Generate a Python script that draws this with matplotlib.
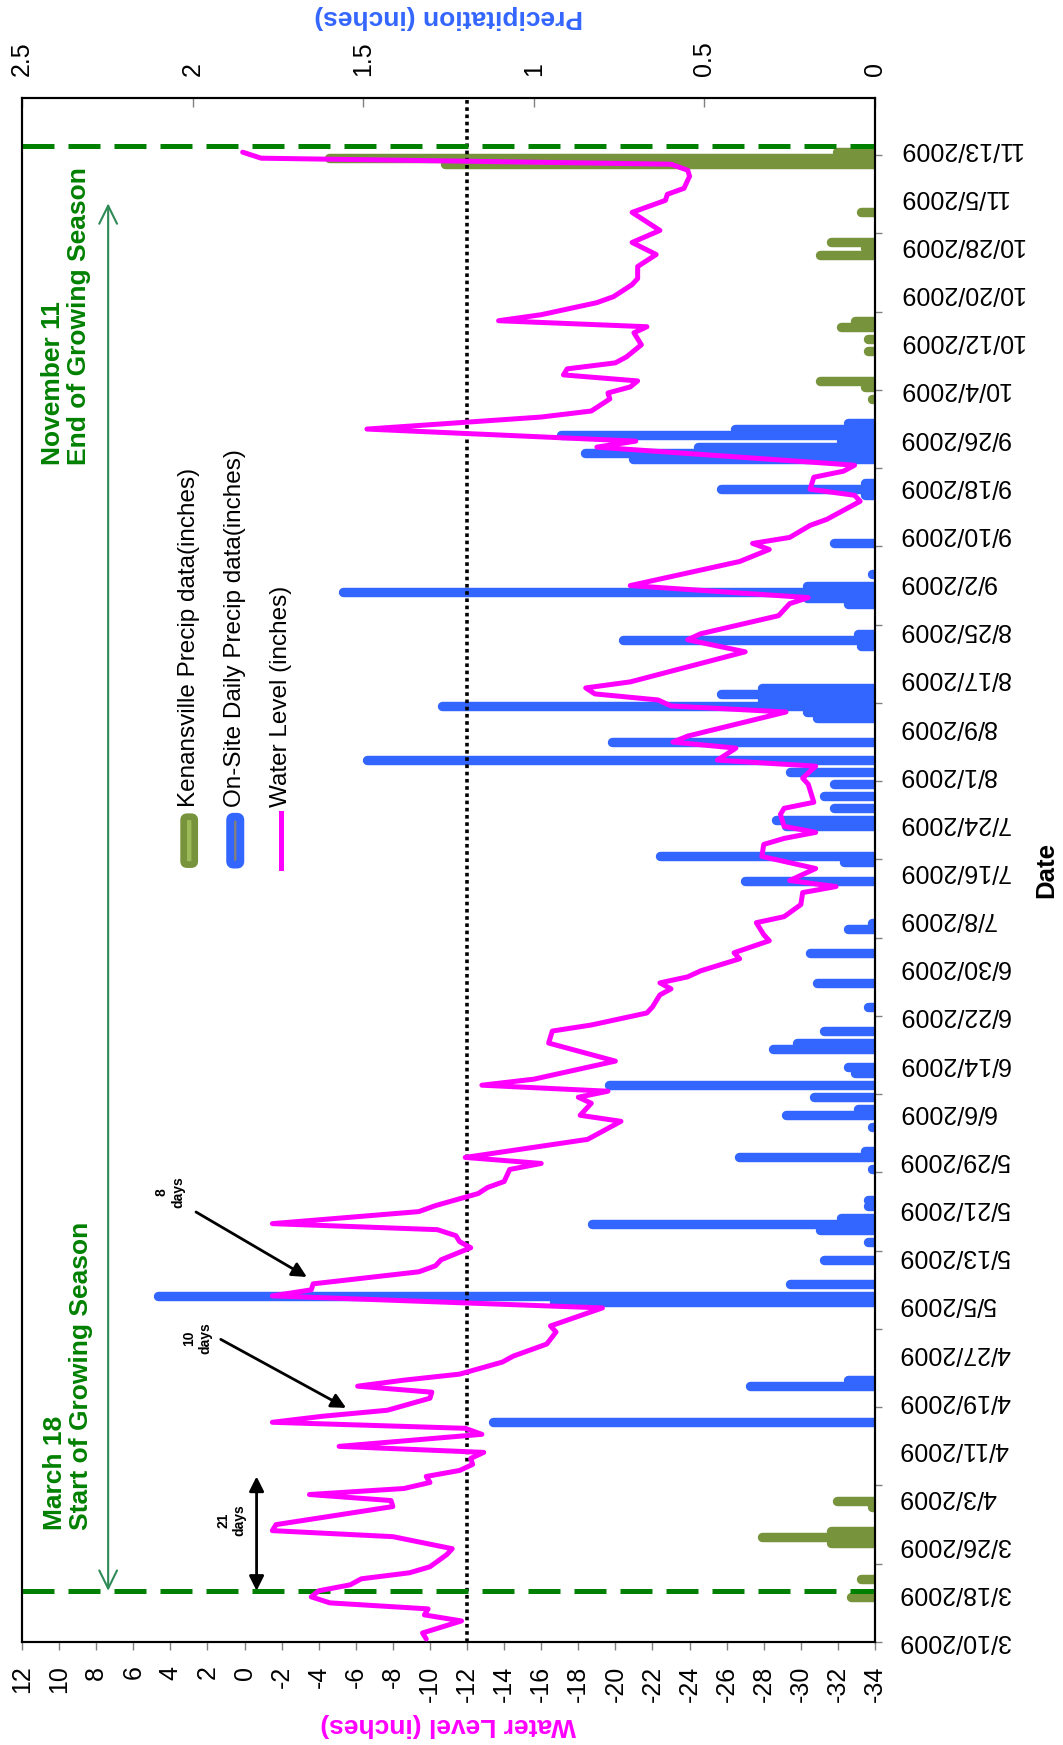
import numpy as np
import matplotlib
matplotlib.use("Agg")
import matplotlib.pyplot as plt
import matplotlib.dates as mdates
from matplotlib.patches import FancyBboxPatch
from matplotlib.lines import Line2D

plt.rcParams["font.family"] = ["Liberation Sans", "DejaVu Sans"]

season_start = np.datetime64("2009-03-10")

# water level (inches), day counted from 3/10/2009
level_day = [0, 1, 3, 4, 5, 6, 7, 8, 9, 10, 11, 12, 14, 15, 17, 18, 19, 22, 23, 24,
             25, 26, 27, 28, 29, 30, 31, 32, 34, 35, 36, 37, 38, 40, 41, 42, 43, 44, 46, 47,
             49, 51, 52, 55, 57, 58, 59, 61, 62, 63, 65, 66, 67, 68, 69, 71, 72, 74, 75, 76,
             78, 79, 80, 83, 86, 87, 89, 90, 91, 92, 93, 96, 99, 101, 102, 104, 105, 107, 108, 109,
             110, 111, 113, 114, 116, 117, 119, 120, 122, 124, 125, 126, 128, 130, 132, 133, 134, 135, 137, 138,
             139, 142, 143, 145, 146, 148, 149, 150, 154, 155, 156, 157, 158, 159, 164, 166, 167, 170, 172, 173,
             175, 179, 181, 182, 183, 185, 186, 189, 190, 191, 193, 194, 195, 198, 199, 201, 203, 204, 206, 207,
             208, 209, 210, 211, 212, 213, 215, 217, 218, 219, 220, 221, 222, 223, 224, 225, 226, 228, 230, 232,
             234, 237, 239, 240, 241, 243, 244, 245, 246, 247]
level_in = [-9.8, -9.6, -11.7, -9.7, -9.9, -4.6, -3.6, -4.0, -5.7, -6.3, -8.9, -10.0, -10.9, -11.2, -8.0, -1.5, -1.7, -8.0, -7.9, -3.5,
            -8.6, -10.0, -9.8, -11.6, -12.3, -12.2, -12.9, -5.1, -12.8, -11.9, -1.5, -4.2, -7.7, -10.0, -10.1, -6.1, -8.6, -11.6, -13.9, -14.5,
            -16.3, -16.8, -16.5, -19.3, -1.5, -3.6, -3.7, -9.4, -10.3, -10.6, -12.2, -11.6, -11.4, -10.4, -1.5, -9.4, -10.3, -12.6, -13.1, -14.0,
            -14.3, -16.0, -11.9, -18.5, -20.3, -18.1, -18.7, -18.0, -19.6, -12.8, -15.6, -20.0, -16.4, -16.6, -18.7, -21.7, -22.0, -22.4, -23.0, -22.4,
            -23.9, -24.6, -26.7, -26.4, -28.3, -28.0, -27.6, -29.1, -30.0, -30.1, -31.9, -29.4, -30.8, -27.9, -28.0, -29.1, -30.8, -29.1, -28.9, -29.1,
            -30.7, -30.4, -30.1, -30.8, -25.5, -26.5, -23.1, -23.9, -29.2, -23.0, -22.3, -18.9, -18.4, -20.8, -27.0, -23.9, -24.6, -28.8, -29.4, -30.4,
            -20.8, -26.7, -28.3, -27.4, -29.4, -30.5, -31.4, -33.2, -32.9, -30.5, -30.7, -32.3, -32.9, -19.0, -21.1, -6.6, -16.0, -18.7, -19.7, -19.6,
            -20.8, -21.2, -17.2, -17.4, -20.0, -20.6, -21.4, -21.0, -21.7, -13.7, -16.0, -17.5, -19.0, -19.9, -20.4, -20.9, -21.2, -21.2, -22.2, -20.9,
            -22.4, -20.9, -22.7, -22.8, -23.7, -24.0, -23.9, -23.0, -0.9, 0.1]

# on-site daily precipitation (inches)
onsite_day = [36, 42, 43, 56, 57, 59, 63, 66, 68, 69, 70, 72, 73, 78, 80, 81, 85, 87, 88, 90,
              92, 94, 95, 98, 99, 101, 105, 109, 114, 118, 119, 126, 129, 130, 135, 136, 138, 140, 142, 144,
              146, 149, 153, 154, 155, 156, 157, 158, 165, 166, 167, 172, 173, 174, 175, 177, 182, 190, 191, 192,
              196, 197, 198, 199, 200, 201, 202]
onsite_in = [1.12, 0.365, 0.08, 0.94, 2.10, 0.25, 0.15, 0.02, 0.16, 0.83, 0.10, 0.02, 0.02, 0.01, 0.40, 0.03, 0.01, 0.26, 0.05, 0.18,
             0.78, 0.06, 0.08, 0.30, 0.23, 0.15, 0.02, 0.17, 0.19, 0.08, 0.01, 0.38, 0.09, 0.63, 0.26, 0.29, 0.12, 0.15, 0.12, 0.25,
             1.49, 0.77, 0.17, 0.20, 1.27, 0.33, 0.45, 0.33, 0.04, 0.74, 0.05, 0.08, 0.20, 1.56, 0.20, 0.01, 0.12, 0.03, 0.45, 0.03,
             0.71, 0.85, 0.52, 0.10, 0.92, 0.41, 0.08]

# Kenansville precipitation (inches)
kenansville_day = [7, 10, 16, 17, 18, 22, 23, 206, 208, 209, 214, 216, 218, 219, 230, 231, 232, 237, 245, 246, 247]
kenansville_in = [0.07, 0.04, 0.13, 0.33, 0.13, 0.01, 0.11, 0.01, 0.03, 0.16, 0.02, 0.02, 0.10, 0.06, 0.16, 0.03, 0.13, 0.04, 1.26, 1.60, 0.11]

season_start_day = 8    # March 18
season_end_day = 248    # November 13 line
level_ticks = list(range(12, -35, -2))
precip_ticks = [0, 0.5, 1, 1.5, 2, 2.5]
legend_labels = ["Kenansville Precip data(inches)", "On-Site Daily Precip data(inches)", "Water Level (inches)"]

BLUE = "#3366FF"
OLIVE = "#77933C"
MAGENTA = "#FF00FF"
GREEN = "#008000"

day0 = mdates.date2num(season_start)


def to_num(days):
    return day0 + np.asarray(days, dtype=float)


fig = plt.figure(figsize=(10.63, 17.45), dpi=100)
W, H = 1063, 1745
ax = fig.add_axes([22 / W, 1 - 1642 / H, 853 / W, 1544 / H])

# precipitation bars (horizontal, hanging from 0 on the right)
ax.hlines(to_num(kenansville_day), 0, kenansville_in, color=OLIVE, lw=6.8, capstyle="round")
ax.hlines(to_num(onsite_day), 0, onsite_in, color=BLUE, lw=6.8, capstyle="round")
ax.set_xlim(2.5, 0)
ax.set_ylim(to_num(-0.5), to_num(256))

ax2 = ax.twiny()
ax2.set_xlim(12, -34)
ax2.axvline(-12, color="black", lw=2.6, ls=(0, (1, 1)), zorder=2)
ax2.axhline(to_num(season_start_day), color=GREEN, lw=3.6, ls=(0, (6.4, 2.8)), zorder=2)
ax2.axhline(to_num(season_end_day), color=GREEN, lw=3.6, ls=(0, (6.4, 2.8)), zorder=2)
ax2.plot(level_in, to_num(level_day), color=MAGENTA, lw=3.6, solid_joinstyle="round",
         solid_capstyle="round", zorder=3)

# axes / ticks
ax.xaxis.tick_top()
ax.xaxis.set_label_position("top")
ax.set_xticks(precip_ticks)
ax.set_xticklabels([f"{v:g}" for v in precip_ticks])
ax.tick_params(axis="x", direction="in", length=6.5, width=1, color="#808080",
               labelsize=18, labelrotation=90, pad=16)

ax2.xaxis.tick_bottom()
ax2.xaxis.set_label_position("bottom")
ax2.set_xticks(level_ticks)
ax2.set_xticklabels([str(v) for v in level_ticks])
ax2.tick_params(axis="x", direction="out", length=6, width=1, color="#808080",
                labelsize=18, labelrotation=90, pad=11)

date_ticks = list(range(0, 249, 8))
tick_dates = (season_start + np.array(date_ticks, dtype="timedelta64[D]")).astype(object)
ax.yaxis.tick_right()
ax.yaxis.set_label_position("right")
ax.set_yticks(to_num(date_ticks))
ax.set_yticklabels([f"{d.month}/{d.day}/{d.year}" for d in tick_dates])
ax.set_yticks(to_num(-0.5 + 13 * np.arange(20)), minor=True)
ax.tick_params(axis="y", which="major", length=0, labelsize=18, labelrotation=180, pad=17)
ax.tick_params(axis="y", which="minor", length=5, width=1, color="#808080", direction="out")

for a in (ax, ax2):
    for s in a.spines.values():
        s.set_linewidth(1.5)
        s.set_color("black")

ax.set_xlabel("Precipitation (inches)", fontsize=19, fontweight="bold", color=BLUE, rotation=180)
ax.xaxis.set_label_coords(0.5, (1642 - 17) / 1544)
ax.xaxis.label.set_va("center")
ax2.set_xlabel("Water Level (inches)", fontsize=19, fontweight="bold", color=MAGENTA, rotation=180)
ax2.xaxis.set_label_coords(0.5, (1642 - 1725) / 1544)
ax2.xaxis.label.set_va("center")
ax.set_ylabel("Date", fontsize=18.5, fontweight="bold", rotation=90)
ax.yaxis.set_label_coords((1046 - 22) / 853, 0.5)
ax.yaxis.label.set_va("center")

# legend drawn by hand, rotated like the rest of the chart
asp = 853 / 1544
ax2.add_patch(FancyBboxPatch((0.196 - 0.0065, 0.5035), 0.013, 0.031,
                             boxstyle="round,pad=0,rounding_size=0.004", mutation_aspect=asp,
                             transform=ax2.transAxes, facecolor="#9BBB59", edgecolor=OLIVE,
                             lw=4.8, clip_on=False, zorder=5))
ax2.add_patch(FancyBboxPatch((0.250 - 0.006, 0.5035), 0.012, 0.031,
                             boxstyle="round,pad=0,rounding_size=0.004", mutation_aspect=asp,
                             transform=ax2.transAxes, facecolor="#808080", edgecolor=BLUE,
                             lw=5.6, clip_on=False, zorder=5))
ax2.add_line(Line2D([0.304, 0.304], [0.5013, 0.537], transform=ax2.transAxes,
                    color=MAGENTA, lw=3.6, zorder=5))
for xc, lab in zip([0.196, 0.250, 0.304], legend_labels):
    ax2.text(xc, 0.541, lab, transform=ax2.transAxes, rotation=90, ha="center", va="bottom",
             fontsize=17.5)

# growing season annotations
ax2.text(0.0516, 0.762, "November 11\nEnd of Growing Season", transform=ax2.transAxes,
         rotation=90, ha="center", va="bottom", fontsize=19, fontweight="bold", color=GREEN,
         linespacing=1.1, multialignment="left")
ax2.text(0.054, 0.0725, "March 18\nStart of Growing Season", transform=ax2.transAxes,
         rotation=90, ha="center", va="bottom", fontsize=19, fontweight="bold", color=GREEN,
         linespacing=1.1, multialignment="left")
ax2.annotate("", xy=(0.101, to_num(238.5)), xytext=(0.101, to_num(season_start_day)),
             xycoords=("axes fraction", "data"), textcoords=("axes fraction", "data"),
             arrowprops=dict(arrowstyle="<->,head_length=0.65,head_width=0.32", color="#2E8B57",
                             lw=1.5, mutation_scale=20, shrinkA=0, shrinkB=0))

ax2.annotate("", xy=(0.275, to_num(27)), xytext=(0.275, to_num(season_start_day)),
             xycoords=("axes fraction", "data"), textcoords=("axes fraction", "data"),
             arrowprops=dict(arrowstyle="<|-|>", color="black", lw=2, mutation_scale=22,
                             shrinkA=0, shrinkB=0))
ax2.text(0.2457, 0.079, "21\ndays", transform=ax2.transAxes, rotation=90, ha="center",
         va="center", fontsize=10, fontweight="bold")
ax2.annotate("", xy=(0.380, 0.1516), xytext=(0.233, 0.196), xycoords="axes fraction",
             arrowprops=dict(arrowstyle="-|>", color="black", lw=2, mutation_scale=22,
                             shrinkA=0, shrinkB=0))
ax2.text(0.205, 0.197, "10\ndays", transform=ax2.transAxes, rotation=90, ha="center",
         va="center", fontsize=10, fontweight="bold")
ax2.annotate("", xy=(0.334, 0.2364), xytext=(0.204, 0.2785), xycoords="axes fraction",
             arrowprops=dict(arrowstyle="-|>", color="black", lw=2, mutation_scale=22,
                             shrinkA=0, shrinkB=0))
ax2.text(0.1735, 0.2915, "8\ndays", transform=ax2.transAxes, rotation=90, ha="center",
         va="center", fontsize=10, fontweight="bold")

fig.savefig("out.png", dpi=100)
